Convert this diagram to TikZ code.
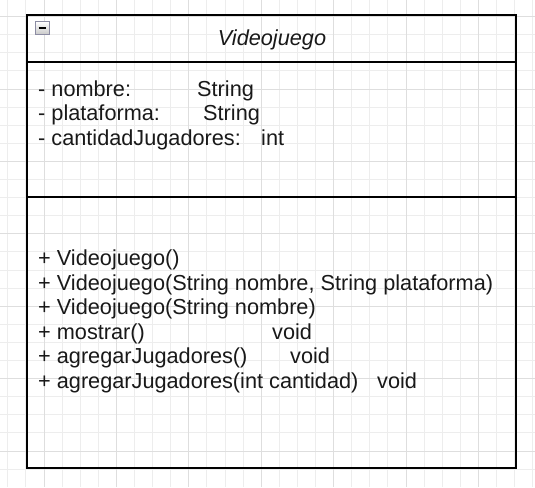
\documentclass[tikz,border=0pt]{standalone}
\usepackage{fontspec}
\setmainfont{Liberation Sans}
\usetikzlibrary{positioning}

\begin{document}
\begin{tikzpicture}[x=1pt, y=-1pt,
    minorline/.style={draw=black!7, line width=0.9pt},
    majorline/.style={draw=black!13, line width=0.9pt},
    umlline/.style={draw=black, line width=1.8pt},
    member/.style={anchor=base west, inner sep=0pt, text=black!90,
                   font=\fontsize{21.7}{24}\selectfont}]
          % Background grid
          \useasboundingbox (0,0) rectangle (535,487);
          \fill[white] (0,0) rectangle (535,487);
          \begin{scope}
            \clip (0,0) rectangle (535,487);
            \foreach \k in {-2,...,27} {
              \pgfmathsetmacro{\gx}{44+18.1*\k}
              \draw[minorline] (\gx,0) -- (\gx,487);
            }
            \foreach \k in {-1,...,24} {
              \pgfmathsetmacro{\gy}{451-18.1*\k}
              \draw[minorline] (0,\gy) -- (535,\gy);
            }
            \foreach \k in {0,...,6} {
              \pgfmathsetmacro{\gx}{44+72.4*\k}
              \draw[majorline] (\gx,0) -- (\gx,487);
            }
            \foreach \k in {0,...,6} {
              \pgfmathsetmacro{\gy}{451-72.4*\k}
              \draw[majorline] (0,\gy) -- (535,\gy);
            }
          \end{scope}

          % Class box
          \draw[umlline] (27,15) rectangle (516,468);
          \draw[umlline] (27,62) -- (516,62);
          \draw[umlline] (27,197) -- (516,197);

          % Collapse button
          \shade[top color=white, bottom color=black!22, draw=blue!20!black!45, line width=1pt]
                (35.5,21.5) rectangle (49,35);
          \draw[black, line width=2pt] (38.5,28.5) -- (46,28.5);

          % Class name
          \node[member, anchor=base, font=\fontsize{21.7}{24}\selectfont\itshape] (title) at (272,46) {Videojuego};

          % Attributes
          \node[member] (attrname) at (38,96) {- nombre:};
          \node[member] (typename) at (197,96) {String};
          \node[member] (attrplat) at (38,120.5) {- plataforma:};
          \node[member] (typeplat) at (203,120.5) {String};
          \node[member] (attrcant) at (38,145) {- cantidadJugadores:};
          \node[member] (typecant) at (261,145) {int};

          % Methods
          \node[member] (ctorempty) at (38,265.5) {+ Videojuego()};
          \node[member] (ctorfull) at (38,290) {+ Videojuego(String nombre, String plataforma)};
          \node[member] (ctorname) at (38,314.5) {+ Videojuego(String nombre)};
          \node[member] (mostrar) at (38,339) {+ mostrar()};
          \node[member] (voidmostrar) at (272,339) {void};
          \node[member] (agregar) at (38,363.5) {+ agregarJugadores()};
          \node[member] (voidagregar) at (290,363.5) {void};
          \node[member] (agregarcant) at (38,388) {+ agregarJugadores(int cantidad)};
          \node[member] (voidagregarcant) at (377,388) {void};
        \end{tikzpicture}
\end{document}
